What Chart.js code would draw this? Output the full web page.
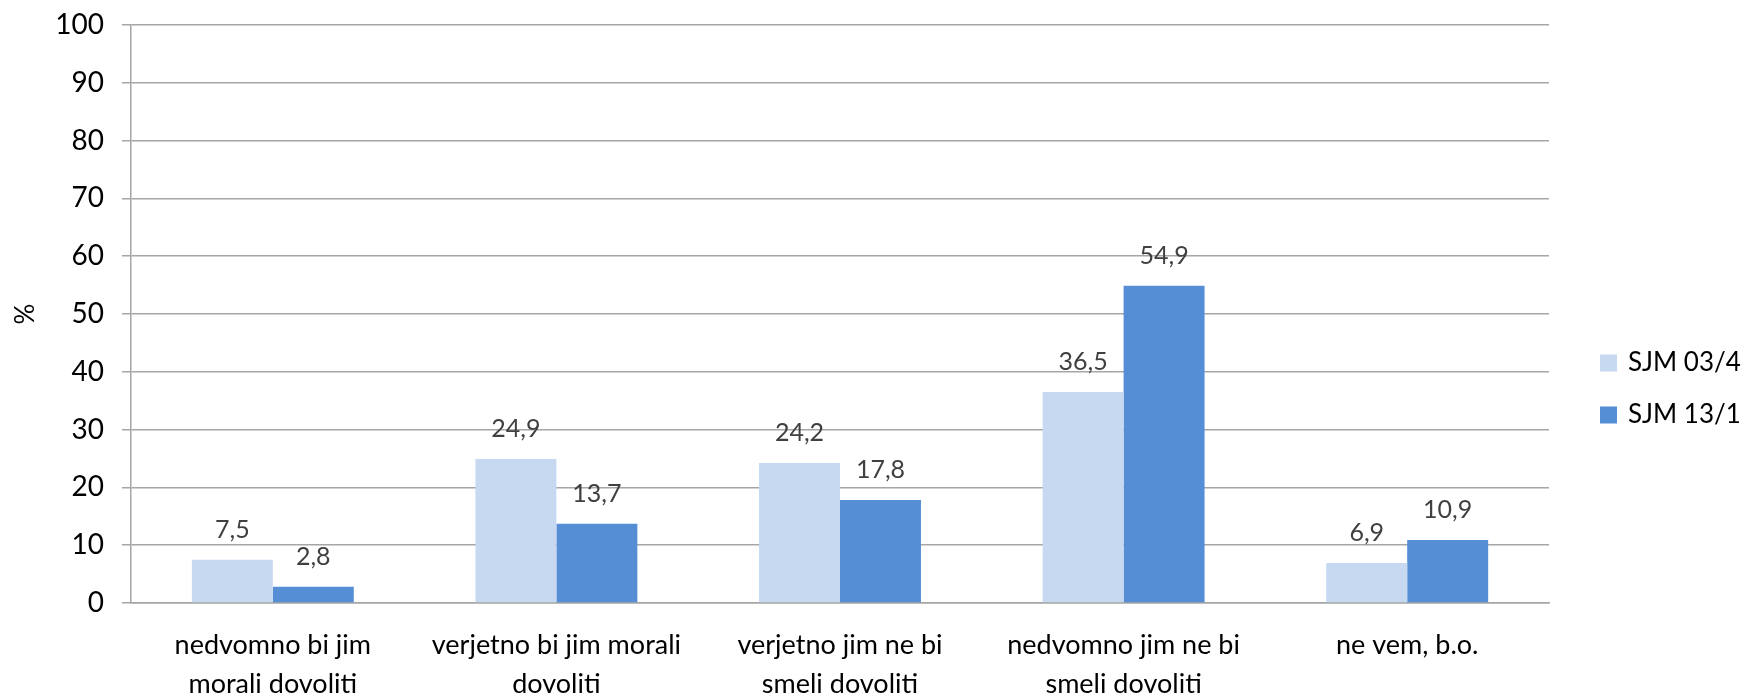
<!DOCTYPE html>
<html>
<head>
<meta charset="utf-8">
<script src="https://cdn.jsdelivr.net/npm/chart.js@4"></script>
<style>
  html, body { margin: 0; padding: 0; background: #fff; }
  #wrap { width: 1750px; height: 697px; }
</style>
</head>
<body>
<div id="wrap"><canvas id="myBarChart" width="1750" height="697"></canvas></div>
<script>
const categories = [
    ['nedvomno bi jim', 'morali dovoliti'],
    ['verjetno bi jim morali', 'dovoliti'],
    ['verjetno jim ne bi', 'smeli dovoliti'],
    ['nedvomno jim ne bi', 'smeli dovoliti'],
    ['ne vem, b.o.']
];
const seriesNames = ['SJM 03/4', 'SJM 13/1'];
const sjm034 = [7.5, 24.9, 24.2, 36.5, 6.9];
const sjm131 = [2.8, 13.7, 17.8, 54.9, 10.9];
const yTicks = [0, 10, 20, 30, 40, 50, 60, 70, 80, 90, 100];

const FONT = 'Lato, "Open Sans", sans-serif';

// vrednosti nad stolpci (decimalna vejica)
const valueLabels = {
    id: 'valueLabels',
    afterDatasetsDraw(chart) {
        const ctx = chart.ctx;
        ctx.save();
        ctx.font = '25px ' + FONT;
        ctx.fillStyle = '#404040';
        ctx.textAlign = 'center';
        ctx.textBaseline = 'middle';
        chart.data.datasets.forEach((ds, i) => {
            chart.getDatasetMeta(i).data.forEach((bar, j) => {
                ctx.fillText(String(ds.data[j]).replace('.', ','), bar.x, bar.y - 30);
            });
        });
        ctx.restore();
    }
};

// legenda desno
const sideLegend = {
    id: 'sideLegend',
    afterDraw(chart) {
        const ctx = chart.ctx;
        ctx.save();
        ctx.font = '26px ' + FONT;
        ctx.textBaseline = 'middle';
        ctx.textAlign = 'left';
        chart.data.datasets.forEach((ds, i) => {
            const cy = 363 + i * 52;
            ctx.fillStyle = ds.backgroundColor;
            ctx.fillRect(1600, cy - 8.5, 17, 17);
            ctx.fillStyle = '#000';
            ctx.fillText(ds.label, 1628, cy);
        });
        ctx.restore();
    }
};

const data = {
    labels: categories,
    datasets: [{
        label: seriesNames[0],
        data: sjm034,
        backgroundColor: '#C6D9F1'
    }, {
        label: seriesNames[1],
        data: sjm131,
        backgroundColor: '#558ED5'
    }]
};

const config = {
    type: 'bar',
    data: data,
    options: {
        responsive: false,
        animation: false,
        layout: { padding: { top: 25, right: 201, left: 0, bottom: 0 } },
        datasets: {
            bar: { categoryPercentage: 0.571, barPercentage: 1.0 }
        },
        plugins: {
            legend: { display: false },
            tooltip: { enabled: false }
        },
        scales: {
            x: {
                afterFit: s => { s.height = 94; },
                grid: { display: false },
                border: { display: true, color: '#a6a6a6', width: 1.5 },
                ticks: {
                    color: '#000',
                    font: { family: FONT, size: 27, lineHeight: 1.45 },
                    padding: 15,
                    maxRotation: 0,
                    autoSkip: false
                }
            },
            y: {
                min: 0,
                max: 100,
                afterFit: s => {
                    s.width = 131;
                    s.paddingTop = 0;
                    s.paddingBottom = 0;
                },
                afterBuildTicks: s => { s.ticks = yTicks.map(v => ({ value: v })); },
                grid: { color: '#a6a6a6', lineWidth: 1.5, tickLength: 9 },
                border: { display: true, color: '#a6a6a6', width: 1.5 },
                ticks: {
                    color: '#000',
                    font: { family: FONT, size: 28 },
                    padding: 18
                },
                title: {
                    display: true,
                    text: '%',
                    color: '#000',
                    font: { family: FONT, size: 26 },
                    padding: { top: 10, bottom: 0 }
                }
            }
        }
    },
    plugins: [valueLabels, sideLegend]
};

window.onload = function() {
    const ctx = document.getElementById('myBarChart').getContext('2d');
    new Chart(ctx, config);
};
</script>
</body>
</html>
